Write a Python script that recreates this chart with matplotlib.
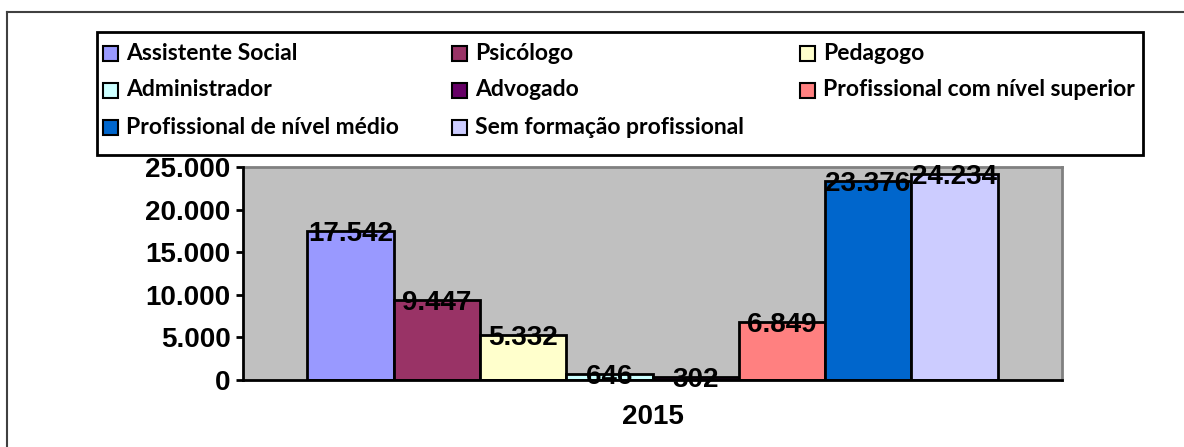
import matplotlib
matplotlib.use("Agg")
import matplotlib.pyplot as plt
from matplotlib.lines import Line2D
from matplotlib.patches import Rectangle

categories = ["Assistente Social", "Psicólogo", "Pedagogo", "Administrador", "Advogado",
              "Profissional com nível superior", "Profissional de nível médio",
              "Sem formação profissional"]
values = [17542, 9447, 5332, 646, 302, 6849, 23376, 24234]
value_labels = ["17.542", "9.447", "5.332", "646", "302", "6.849", "23.376", "24.234"]
colors = ["#9999FF", "#993366", "#FFFFCC", "#CCFFFF", "#660066", "#FF8080", "#0066CC", "#CCCCFF"]
year_label = "2015"
yticks = [0, 5000, 10000, 15000, 20000, 25000]
ytick_labels = ["0", "5.000", "10.000", "15.000", "20.000", "25.000"]

W, H = 1184, 447
fig = plt.figure(figsize=(W / 100, H / 100), dpi=100)
ax = fig.add_axes([243 / W, 1 - 380 / H, 819 / W, 213 / H])
ax.set_facecolor("#C0C0C0")

n = len(values)
group_w = 690 / 819
bw = group_w / n
start = -group_w / 2
num_font = dict(family="Liberation Sans", weight="bold", size=20)
for i, (cat, v, c, lab) in enumerate(zip(categories, values, colors, value_labels)):
    x = start + bw * (i + 0.5)
    ax.bar(x, v, width=bw, color=c, edgecolor="black", linewidth=2, label=cat, zorder=3)
    ax.text(x, v, lab, ha="center", va="center_baseline", zorder=5, **num_font)

ax.set_xlim(-0.5, 0.5)
ax.set_ylim(0, 25000)
ax.set_yticks(yticks)
ax.set_yticklabels(ytick_labels, fontdict=num_font)
ax.set_xticks([0])
ax.set_xticklabels([year_label], fontdict=num_font)
ax.tick_params(axis="x", length=0, pad=17)
ax.tick_params(axis="y", length=5, width=2, direction="out", pad=4)
for s in ["top", "right"]:
    ax.spines[s].set_color("#808080")
    ax.spines[s].set_linewidth(2)
for s in ["left", "bottom"]:
    ax.spines[s].set_color("black")
    ax.spines[s].set_linewidth(2)
    ax.spines[s].set_zorder(4)

# manual legend, row-wise, 3 columns
leg_font = dict(family="Lato", weight="bold", size=16.5)
col_x = [103, 452, 800]
row_y0, row_dy = 53, 37
sq = 15
fig.add_artist(Rectangle((97 / W, 1 - 155 / H), 1046 / W, 123 / H, transform=fig.transFigure,
                         facecolor="white", edgecolor="black", linewidth=2))
for i, (cat, c) in enumerate(zip(categories, colors)):
    r, k = divmod(i, 3)
    xpx = col_x[k]
    ypx = row_y0 + r * row_dy
    fig.add_artist(Rectangle((xpx / W, 1 - (ypx + sq / 2) / H), sq / W, sq / H,
                             transform=fig.transFigure, facecolor=c,
                             edgecolor="black", linewidth=1.5))
    fig.text((xpx + sq + 8) / W, 1 - ypx / H, cat, ha="left", va="center", **leg_font)

# outer frame lines
fig.add_artist(Line2D([7 / W, 7 / W], [0, 1 - 12 / H], color="#404040", linewidth=1.5))
fig.add_artist(Line2D([7 / W, 1], [1 - 12 / H, 1 - 12 / H], color="#404040", linewidth=1.5))

fig.savefig("out.png", dpi=100)
